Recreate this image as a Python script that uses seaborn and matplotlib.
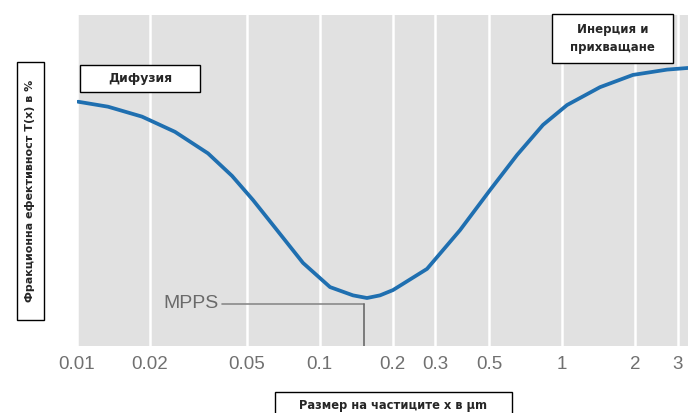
import pandas as pd
import matplotlib.pyplot as plt
import seaborn as sns
from matplotlib.patches import Rectangle

# Данни, отчетени от графиката (размер в µm, ефективност в %)
particle_size = [0.0101, 0.01342, 0.01853, 0.02535, 0.03467, 0.04355, 0.05315,
                 0.06675, 0.08543, 0.1104, 0.1373, 0.1568, 0.1774, 0.2007,
                 0.2772, 0.3791, 0.5040, 0.6512, 0.8334, 1.047, 1.432, 1.957,
                 2.704, 3.30]
efficiency = [73.8, 72.3, 69.3, 64.7, 58.2, 51.4, 44.1,
              35.0, 25.1, 17.8, 15.3, 14.5, 15.3, 16.9,
              23.3, 35.0, 47.1, 57.7, 66.8, 72.8, 78.2, 81.9,
              83.5, 84.0]

tick_values = [0.01, 0.02, 0.05, 0.1, 0.2, 0.3, 0.5, 1, 2, 3]
tick_labels = ["0.01", "0.02", "0.05", "0.1", "0.2", "0.3", "0.5", "1", "2", "3"]

mpps_x = 0.152
mpps_y = 12.7
mpps_text_x = 0.0396

df = pd.DataFrame({"size": particle_size, "eff": efficiency})

sns.set_theme(style="darkgrid", rc={
    "axes.facecolor": "#e1e1e1",
    "grid.color": "white",
    "grid.linewidth": 1.8,
})
plt.rcParams['font.family'] = ['DejaVu Sans']

fig = plt.figure(figsize=(6.88, 4.13), dpi=100)
ax = fig.add_axes([77 / 688, 1 - 346 / 413, 611 / 688, 331 / 413])

sns.lineplot(data=df, x="size", y="eff", ax=ax, color="#1f6fb0", linewidth=2.7)

ax.set_xscale("log")
ax.set_xlim(0.01, 3.3)
ax.set_ylim(0, 100)
ax.set_xticks(tick_values)
ax.set_xticklabels(tick_labels, family="Liberation Sans")
ax.minorticks_off()
ax.set_yticks([])
ax.grid(axis="y", visible=False)
ax.tick_params(axis="x", labelsize=13.5, labelcolor="#707070", pad=7, length=0)
ax.set_xlabel("")
ax.set_ylabel("")
for s in ax.spines.values():
    s.set_visible(False)

# MPPS маркировка
ax.plot([mpps_text_x, mpps_x], [mpps_y, mpps_y], color="#8a8a8a", linewidth=1.2)
ax.plot([mpps_x, mpps_x], [mpps_y, 0], color="#6a6a6a", linewidth=1.2)
ax.text(mpps_text_x * 0.97, mpps_y, "MPPS", ha="right", va="center",
        fontsize=14, color="#6a6a6a", family="Liberation Sans")


def boxed(x0, y0, x1, y1, text, rotation=0, size=9):
    # координати в пиксели спрямо горния ляв ъгъл
    W, H = 688, 413
    fig.patches.append(Rectangle((x0 / W, 1 - y1 / H), (x1 - x0) / W, (y1 - y0) / H,
                                 transform=fig.transFigure, facecolor="white",
                                 edgecolor="black", linewidth=1.0, zorder=5))
    fig.text((x0 + x1) / 2 / W, 1 - (y0 + y1) / 2 / H, text, ha="center",
             va="center", fontsize=size, fontweight="bold", rotation=rotation,
             linespacing=1.5, zorder=6)


boxed(80, 65, 200, 92, "Дифузия", size=9)
boxed(552, 14, 673, 63, "Инерция и\nприхващане", size=8.5)
boxed(17, 62, 44, 320, "Фракционна ефективност T(x) в %", rotation=90, size=8)
boxed(275, 392, 512, 420, "Размер на частиците x в µm", size=8.3)

plt.savefig("out.png", dpi=100)
plt.close()
